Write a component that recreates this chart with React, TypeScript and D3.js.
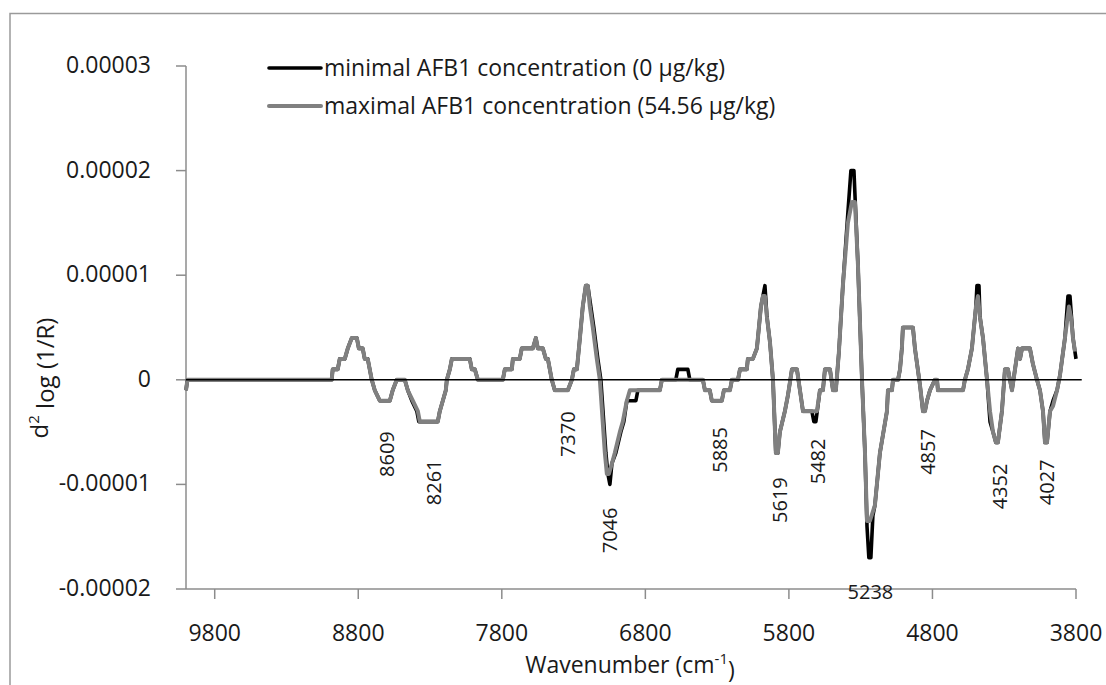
import React from 'react';
import * as d3 from 'd3';

const UNIT = 1e-6;

const wavenumberTicks = [9800, 8800, 7800, 6800, 5800, 4800, 3800];
const valueTicks = [-0.00002, -0.00001, 0, 0.00001, 0.00002, 0.00003];
const valueTickLabels = ['-0.00002', '-0.00001', '0', '0.00001', '0.00002', '0.00003'];

const legendLabels = [
  'minimal AFB1 concentration (0 μg/kg)',
  'maximal AFB1 concentration (54.56 μg/kg)',
];

// [wavenumber (cm-1), d2 log(1/R) in units of 1e-6]
const maximalSeries: [number, number][] = [
  [10000, -1], [9990, 0], [8985, 0], [8978, 1], [8943, 1], [8929, 2], [8894, 2], [8873, 3], [8845, 4], [8810, 4],
  [8796, 3], [8769, 3], [8755, 2], [8734, 2], [8706, 0], [8685, -1], [8650, -2], [8580, -2], [8560, -1], [8532, 0],
  [8476, 0], [8455, -1], [8420, -2], [8385, -3], [8371, -4], [8246, -4], [8232, -3], [8211, -2], [8190, -1], [8183, 0],
  [8162, 1], [8148, 2], [8023, 2], [8009, 1], [7988, 1], [7967, 0], [7793, 0], [7779, 1], [7730, 1], [7723, 2],
  [7675, 2], [7661, 3], [7584, 3], [7563, 4], [7549, 3], [7514, 3], [7493, 2], [7479, 2], [7452, 0], [7431, -1],
  [7340, -1], [7312, 0], [7298, 1], [7277, 1], [7256, 4], [7236, 7], [7215, 9], [7201, 9], [7187, 7], [7166, 5],
  [7138, 2], [7117, 0], [7082, -7], [7068, -9], [7054, -9], [7033, -8], [7013, -7], [6978, -5], [6957, -4], [6929, -2],
  [6908, -1], [6699, -1], [6685, 0], [6399, 0], [6385, -1], [6351, -1], [6337, -2], [6267, -2], [6253, -1], [6211, -1],
  [6197, 0], [6155, 0], [6141, 1], [6093, 1], [6086, 2], [6051, 2], [6023, 3], [6016, 4], [5995, 7], [5981, 8],
  [5967, 8], [5953, 6], [5932, 3.6], [5911, 0], [5891, -7], [5877, -7], [5863, -5], [5828, -3], [5807, -1.5], [5779, 1],
  [5744, 1], [5723, -1], [5702, -3], [5605, -3], [5584, -1], [5563, -1], [5549, 1], [5514, 1], [5493, -1], [5473, -1],
  [5452, 2.6], [5424, 9], [5389, 15], [5361, 17], [5340, 17], [5319, 11], [5291, 0], [5270, -7], [5256, -13.5], [5236, -13.5],
  [5201, -12], [5166, -7], [5117, -3], [5110, -1], [5082, -1], [5075, 0], [5040, 0], [5026, 1], [5013, 3], [5006, 5],
  [4936, 5], [4922, 3], [4887, -0.5], [4866, -3], [4852, -3], [4838, -2], [4817, -1], [4783, 0], [4768, 0], [4762, -1],
  [4587, -1], [4574, 0], [4553, 1], [4525, 3], [4497, 7], [4483, 8], [4469, 6], [4448, 4], [4420, 0], [4399, -3],
  [4378, -5], [4358, -6], [4344, -6], [4316, -3], [4295, 1], [4274, 1], [4246, -1], [4225, 1], [4204, 3], [4190, 2],
  [4176, 3], [4121, 3], [4100, 1.5], [4072, 0], [4051, -1], [4030, -3], [4016, -6], [4002, -6], [3981, -3], [3960, -2.5],
  [3932, -1], [3911, 0.5], [3877, 4], [3849, 7], [3835, 6], [3821, 4], [3807, 2.7],
];

const minimalSeries: [number, number][] = [
  [10000, -1], [9990, 0], [8985, 0], [8978, 1], [8943, 1], [8929, 2], [8894, 2], [8873, 3], [8845, 4], [8810, 4],
  [8796, 3], [8769, 3], [8755, 2], [8734, 2], [8706, 0], [8685, -1], [8650, -2], [8580, -2], [8560, -1], [8532, 0],
  [8476, 0], [8455, -1], [8427, -2], [8392, -3], [8378, -4], [8246, -4], [8232, -3], [8211, -2], [8190, -1], [8183, 0],
  [8162, 1], [8148, 2], [8023, 2], [8009, 1], [7988, 1], [7967, 0], [7793, 0], [7779, 1], [7730, 1], [7723, 2],
  [7675, 2], [7661, 3], [7584, 3], [7563, 4], [7549, 3], [7514, 3], [7493, 2], [7479, 2], [7452, 0], [7431, -1],
  [7340, -1], [7312, 0], [7298, 1], [7277, 1], [7256, 4], [7236, 7], [7215, 9], [7201, 9], [7180, 7], [7159, 5],
  [7131, 2], [7110, 0], [7075, -7], [7061, -9], [7047, -10], [7033, -8], [7006, -7], [6971, -5], [6950, -4], [6929, -2],
  [6866, -2], [6852, -1], [6699, -1], [6685, 0], [6588, 0], [6574, 1], [6504, 1], [6490, 0], [6399, 0], [6385, -1],
  [6351, -1], [6337, -2], [6267, -2], [6253, -1], [6211, -1], [6197, 0], [6155, 0], [6141, 1], [6093, 1], [6086, 2],
  [6051, 2], [6023, 3], [6016, 4], [5995, 7], [5981, 8], [5967, 9], [5953, 6], [5932, 3.6], [5911, 0], [5891, -7],
  [5877, -7], [5863, -5], [5828, -3], [5807, -1.5], [5779, 1], [5744, 1], [5723, -1], [5702, -3], [5640, -3], [5626, -4],
  [5612, -4], [5598, -2.5], [5584, -1], [5563, -1], [5549, 1], [5514, 1], [5493, -1], [5473, -1], [5452, 2.6], [5424, 9],
  [5389, 16], [5368, 20], [5347, 20], [5319, 11], [5291, 0], [5270, -7], [5256, -14], [5243, -17], [5229, -17], [5215, -13],
  [5201, -12], [5166, -7], [5117, -3], [5110, -1], [5082, -1], [5075, 0], [5040, 0], [5026, 1], [5013, 3], [5006, 5],
  [4936, 5], [4922, 3], [4887, -0.5], [4866, -3], [4852, -3], [4838, -2], [4817, -1], [4783, 0], [4768, 0], [4762, -1],
  [4587, -1], [4574, 0], [4553, 1], [4525, 3], [4497, 7], [4490, 9], [4476, 9], [4469, 6], [4448, 4], [4420, 0],
  [4399, -4], [4378, -5], [4358, -6], [4344, -6], [4316, -3], [4295, 1], [4274, 1], [4246, -1], [4225, 1], [4204, 3],
  [4190, 2], [4176, 3], [4121, 3], [4100, 1.5], [4072, 0], [4051, -1], [4030, -3], [4016, -6], [4002, -6], [3981, -3],
  [3960, -2], [3932, -1], [3911, 0.5], [3877, 4], [3856, 8], [3842, 8], [3821, 4], [3800, 2],
];

const zeroLine: [number, number][] = [[10000, 0], [3760, 0]];

// peak annotations anchored in data space [wavenumber, value (1e-6)]
const peakLabels = ['8609', '8261', '7370', '7046', '5885', '5619', '5482', '4857', '4352', '4027'];
const peakAnchors: [number, number][] = [
  [8598, -7.1], [8274, -9.8], [7340, -5.2], [7047, -14.4], [6277, -6.7],
  [5863, -11.5], [5598, -7.8], [4831, -6.9], [4330, -10.2], [4002, -9.8],
];
const horizontalPeakLabel = '5238';
const horizontalPeakAnchor: [number, number] = [5232, -20.3];

const FONT = "'Open Sans', sans-serif";
const AXIS_GREY = '#8c8c8c';
const TEXT = '#1a1a1a';

export default function App() {
  const x = d3.scaleLinear().domain([10000, 3800]).range([186, 1076]);
  const y = d3.scaleLinear().domain([-0.00002, 0.00003]).range([589, 66]);
  const line = d3
    .line<[number, number]>()
    .x((d) => x(d[0]))
    .y((d) => y(d[1] * UNIT));

  const x0 = x.range()[0];
  const yBottom = y.range()[0];

  return (
    <svg
      width={1106}
      height={685}
      style={{ position: 'absolute', left: 0, top: 0, background: '#fff' }}
      fontFamily={FONT}
    >
      <rect x={0} y={0} width={1106} height={685} fill="#fff" />
      <rect x={10} y={13.5} width={1300} height={900} fill="none" stroke="#9a9a9a" strokeWidth={1.5} />

      {/* y axis */}
      <line x1={x0} x2={x0} y1={y(0.00003)} y2={yBottom} stroke={AXIS_GREY} strokeWidth={1.5} />
      {valueTicks.map((t, i) => (
        <g key={'yt' + i}>
          <line x1={x0 - 10} x2={x0} y1={y(t)} y2={y(t)} stroke={AXIS_GREY} strokeWidth={1.5} />
          <text x={151} y={y(t)} dy="0.3em" textAnchor="end" fontSize={23} fill={TEXT}>
            {valueTickLabels[i]}
          </text>
        </g>
      ))}

      {/* x axis */}
      <line x1={x0} x2={x(3800)} y1={yBottom} y2={yBottom} stroke={AXIS_GREY} strokeWidth={1.5} />
      {wavenumberTicks.map((t) => (
        <g key={'xt' + t}>
          <line x1={x(t)} x2={x(t)} y1={yBottom} y2={yBottom + 10} stroke={AXIS_GREY} strokeWidth={1.5} />
          <text x={x(t)} y={641} textAnchor="middle" fontSize={23} fill={TEXT}>
            {t}
          </text>
        </g>
      ))}

      {/* series */}
      <path d={line(minimalSeries) || ''} fill="none" stroke="#000" strokeWidth={3.6} strokeLinejoin="round" />
      <path d={line(maximalSeries) || ''} fill="none" stroke="#808080" strokeWidth={4} strokeLinejoin="round" />
      <path d={line(zeroLine) || ''} fill="none" stroke="#000" strokeWidth={1.5} />

      {/* peak labels */}
      {peakLabels.map((lab, i) => {
        const px = x(peakAnchors[i][0]);
        const py = y(peakAnchors[i][1] * UNIT);
        return (
          <text
            key={'pk' + lab}
            transform={`translate(${px},${py}) rotate(-90)`}
            textAnchor="middle"
            dy="0.35em"
            fontSize={20}
            fill={TEXT}
          >
            {lab}
          </text>
        );
      })}
      <text
        x={x(horizontalPeakAnchor[0])}
        y={y(horizontalPeakAnchor[1] * UNIT)}
        dy="0.35em"
        textAnchor="middle"
        fontSize={20}
        fill={TEXT}
      >
        {horizontalPeakLabel}
      </text>

      {/* legend */}
      {legendLabels.map((lab, i) => {
        const ly = 68 + i * 38;
        return (
          <g key={'lg' + i}>
            <line x1={269} x2={321} y1={ly} y2={ly} stroke={i === 0 ? '#000' : '#808080'} strokeWidth={i === 0 ? 3.6 : 4} strokeLinecap="round" />
            <text x={324} y={ly} dy="0.33em" fontSize={23} fill={TEXT}>
              {lab}
            </text>
          </g>
        );
      })}

      {/* axis titles */}
      <text transform="translate(40,378) rotate(-90)" textAnchor="middle" dy="0.35em" fontSize={24} fill={TEXT}>
        d<tspan fontSize={15} dy="-0.6em">2</tspan>
        <tspan dy="0.6em"> log (1/R)</tspan>
      </text>
      <text x={630} y={673} textAnchor="middle" fontSize={23} fill={TEXT}>
        Wavenumber (cm<tspan fontSize={15} dy="-0.6em">-1</tspan>
        <tspan dy="0.6em">)</tspan>
      </text>
    </svg>
  );
}
